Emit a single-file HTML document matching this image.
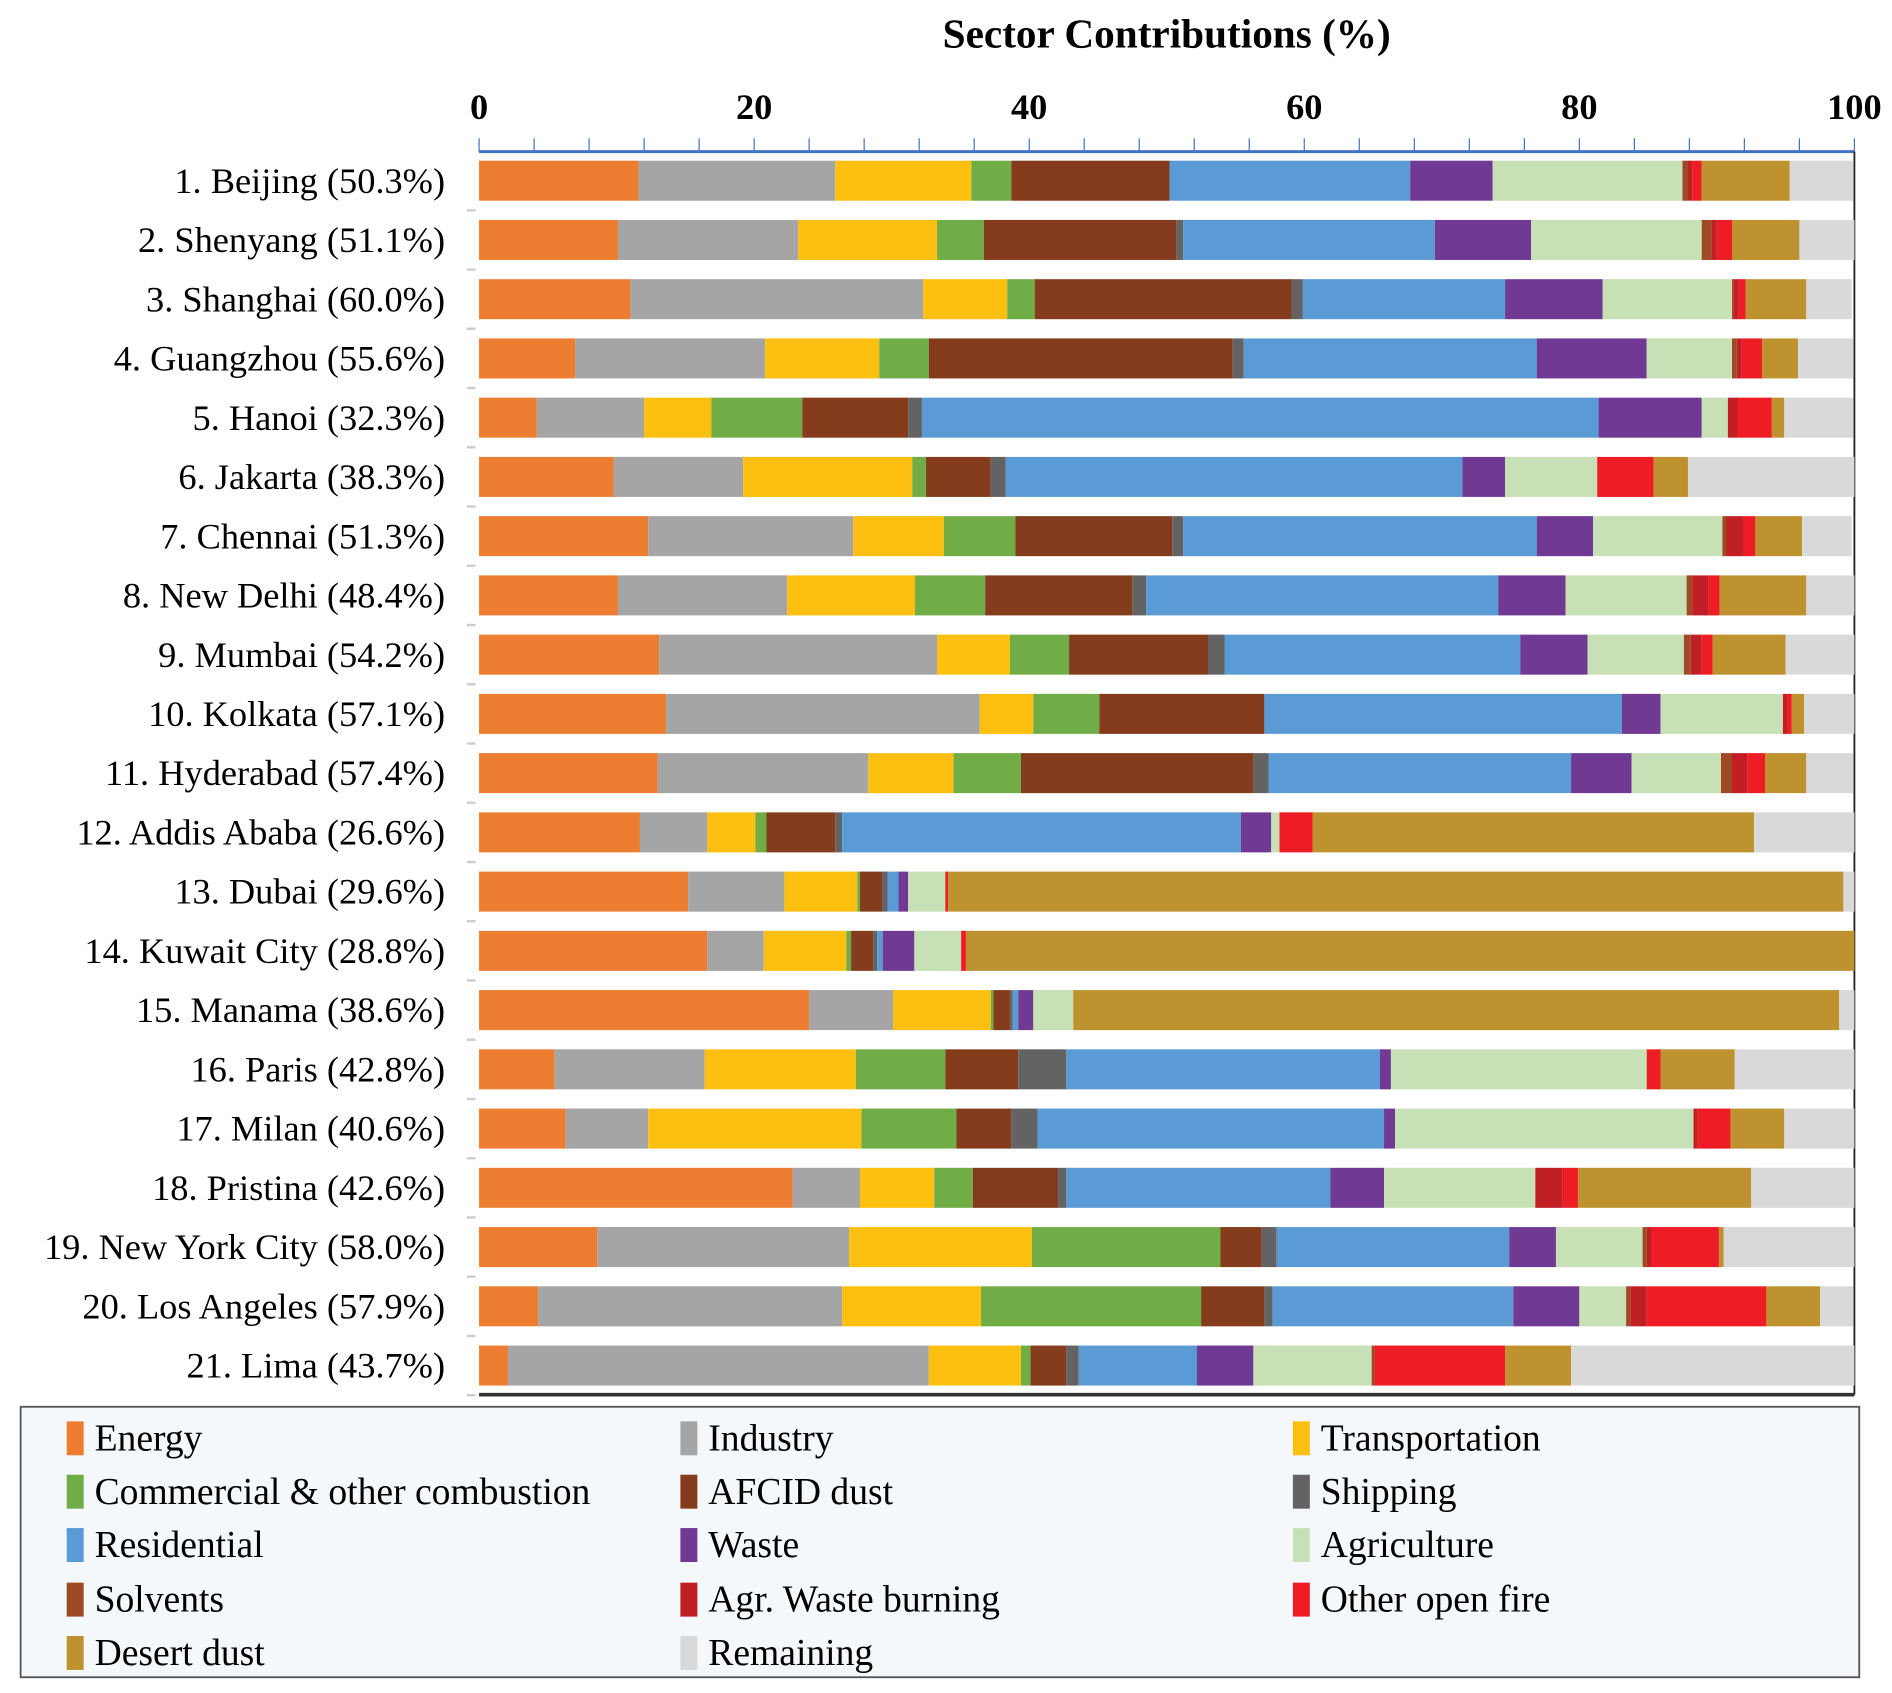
<!DOCTYPE html>
<html><head><meta charset="utf-8"><style>
html,body{margin:0;padding:0;background:#fff;}
svg{display:block;font-family:"Liberation Serif",serif;}
</style></head><body>
<svg id="chart" width="1892" height="1693" viewBox="0 0 1560 1396" preserveAspectRatio="none" xmlns="http://www.w3.org/2000/svg">
<text x="962" y="39" text-anchor="middle" font-size="34" font-weight="bold">Sector Contributions (%)</text>
<g id="axis"></g>
<g id="bars"></g>
<g id="legend"></g>
</svg>
<script>
const cities = ["1. Beijing (50.3%)","2. Shenyang (51.1%)","3. Shanghai (60.0%)","4. Guangzhou (55.6%)","5. Hanoi (32.3%)","6. Jakarta (38.3%)","7. Chennai (51.3%)","8. New Delhi (48.4%)","9. Mumbai (54.2%)","10. Kolkata (57.1%)","11. Hyderabad (57.4%)","12. Addis Ababa (26.6%)","13. Dubai (29.6%)","14. Kuwait City (28.8%)","15. Manama (38.6%)","16. Paris (42.8%)","17. Milan (40.6%)","18. Pristina (42.6%)","19. New York City (58.0%)","20. Los Angeles (57.9%)","21. Lima (43.7%)"];
const sectors = ["Energy","Industry","Transportation","Commercial & other combustion","AFCID dust","Shipping","Residential","Waste","Agriculture","Solvents","Agr. Waste burning","Other open fire","Desert dust","Remaining"];
const colors = ["#ed7d31","#a5a5a5","#fdc010","#70ad47","#843c1c","#636363","#5b9bd5","#703a94","#c8e0b5","#9e4a26","#c01f26","#ee1c25","#bf9230","#d9d9d9"];
const energy =    [11.6,10.1,11.0,7.0,4.2,9.8,12.3,10.1,13.1,13.6,13.0,11.7,15.2,16.6,24.0,5.5,6.3,22.8,8.6,4.3,2.1];
const industry =  [14.3,13.1,21.3,13.8,7.8,9.4,14.9,12.3,20.2,22.8,15.3,4.9,7.0,4.1,6.1,10.9,6.0,4.9,18.3,22.1,30.6];
const transport = [9.9,10.1,6.1,8.3,4.9,12.3,6.6,9.3,5.3,3.9,6.2,3.5,5.3,6.0,7.1,11.0,15.5,5.4,13.3,10.1,6.7];
const commercial =[2.9,3.4,2.0,3.6,6.6,1.0,5.2,5.1,4.3,4.8,4.9,0.8,0.2,0.35,0.2,6.5,6.9,2.8,13.7,16.0,0.7];
const afcid =     [11.5,14.0,18.7,22.1,7.7,4.7,11.4,10.7,10.1,12.0,16.9,5.0,1.6,1.6,1.2,5.3,4.0,6.2,3.0,4.6,2.6];
const shipping =  [0,0.5,0.8,0.8,1.0,1.1,0.8,1.0,1.2,0,1.1,0.5,0.4,0.3,0.2,3.5,1.9,0.6,1.1,0.6,0.9];
const residential=[17.5,18.3,14.7,21.3,49.2,33.2,25.7,25.6,21.5,26.0,22.0,29.0,0.8,0.4,0.4,22.8,25.2,19.2,16.9,17.5,8.6];
const waste =     [6.0,7.0,7.1,8.0,7.5,3.1,4.1,4.9,4.9,2.8,4.4,2.2,0.7,2.3,1.1,0.8,0.8,3.9,3.4,4.8,4.1];
const agriculture=[13.8,12.4,9.4,6.2,1.9,6.7,9.4,8.8,7.0,8.9,6.5,0.6,2.7,3.4,2.9,18.6,21.7,11.0,6.3,3.4,8.6];
const solvents =  [0.4,0.7,0.1,0.35,0,0,0.3,0.4,0.5,0,0.8,0,0,0,0,0,0,0,0.3,0.3,0.2];
const agrWaste =  [0.3,0.4,0.4,0.35,0.7,0,1.2,1.2,0.8,0.3,1.1,0,0,0,0,0,0.3,2.0,0.35,1.2,0];
const otherFire = [0.7,1.1,0.5,1.5,2.5,4.1,0.9,0.8,0.8,0.35,1.3,2.4,0.2,0.35,0,1.0,2.4,1.1,4.9,8.7,9.5];
const desert =    [6.4,4.9,4.4,2.6,0.9,2.5,3.4,6.3,5.3,0.9,3.0,32.1,65.1,64.7,55.7,5.4,3.9,12.6,0.35,3.9,4.8];
const remaining = [4.6,4.2,3.3,4.0,5.0,12.1,3.6,3.6,5.0,3.7,3.4,7.3,0.9,0,1.1,8.7,5.1,7.6,9.6,2.4,20.6];
const series = [energy,industry,transport,commercial,afcid,shipping,residential,waste,agriculture,solvents,agrWaste,otherFire,desert,remaining];
const xTicks = [0,20,40,60,80,100];

const NS="http://www.w3.org/2000/svg";
const X0=395, X1=1529, Y0=149, STEP=48.85, BH=33;
const xs = v => X0 + (v/100)*(X1-X0);
const ys = i => Y0 + i*STEP;
function mk(tag, attrs, parent){const e=document.createElementNS(NS,tag);for(const k in attrs)e.setAttribute(k,attrs[k]);parent.appendChild(e);return e;}
const axis=document.getElementById('axis'), bars=document.getElementById('bars'), legend=document.getElementById('legend');

let l=mk('line',{x1:X0,x2:X1,y1:125,y2:125,stroke:'#4472c4','stroke-width':2.5},axis);


for(let v=0; v<=100; v+=4){
  const t=mk('line',{x1:xs(v),x2:xs(v),y1:114,y2:125,stroke:'#4472c4','stroke-width':1},axis);
  
  
}
xTicks.forEach(v=>{
  const t=mk('text',{x:xs(v),y:98,'text-anchor':'middle','font-size':30,'font-weight':'bold'},axis);
  t.textContent=v;
  
  
});
let rb=mk('line',{x1:X1,x2:X1,y1:125,y2:1150,stroke:'#222','stroke-width':1.5},axis);


let bb=mk('line',{x1:X0,x2:X1,y1:1150,y2:1150,stroke:'#333','stroke-width':3},axis);


for(let i=0;i<cities.length;i++){
  const t=mk('line',{x1:385,x2:392,y1:ys(i)+STEP/2,y2:ys(i)+STEP/2,stroke:'#ccc','stroke-width':2},axis);
  
  
}

cities.forEach((c,i)=>{
  const lab=mk('text',{x:367,y:ys(i)+10,'text-anchor':'end','font-size':30},bars);
  lab.textContent=c;
  
  
  let acc=0;
  series.forEach((s,k)=>{
    const v=s[i]; if(!v){return;}
    const end=Math.min(100,acc+v);
    const r=mk('rect',{x:xs(acc),y:ys(i)-BH/2,width:Math.max(0,xs(end)-xs(acc)),height:BH,fill:colors[k]},bars);
    
    
    acc=end;
  });
});

const box=mk('rect',{x:17,y:1160,width:1516,height:223,fill:'#f5f8fb',stroke:'#555','stroke-width':1.5},legend);


const colX=[55,561,1066], rowY=[1186,1230,1274,1319,1363];
sectors.forEach((s,k)=>{
  const cx=colX[k%3], cy=rowY[Math.floor(k/3)];
  const sw=mk('rect',{x:cx,y:cy-14,width:14,height:28,fill:colors[k]},legend);
  
  
  const t=mk('text',{x:cx+23,y:cy+10,'font-size':31},legend);
  t.textContent=s;
  
  
});
</script>
</body></html>
